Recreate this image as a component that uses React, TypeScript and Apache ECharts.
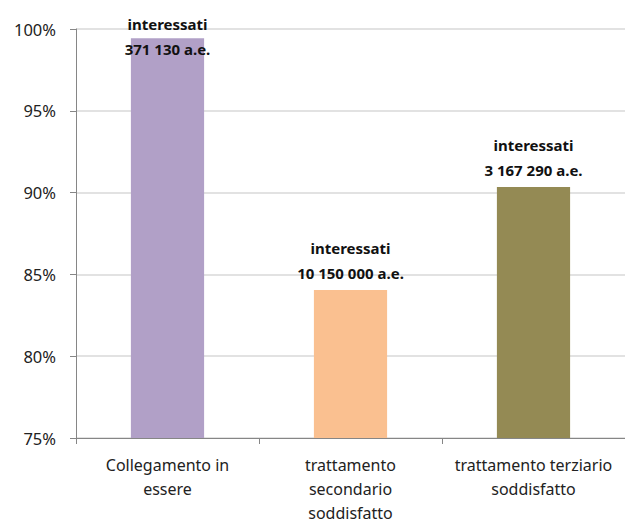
import React, { useEffect, useRef } from "react";
import * as echarts from "echarts";

const categories = ["Collegamento in\nessere", "trattamento\nsecondario\nsoddisfatto", "trattamento terziario\nsoddisfatto"];
const values = [99.43, 84.04, 90.34];
const labelTexts = ["interessati\n371 130 a.e.", "interessati\n10 150 000 a.e.", "interessati\n3 167 290 a.e."];
const colors = ["#B1A0C7", "#FAC090", "#948A54"];
const yTicks = [75, 80, 85, 90, 95, 100];

export default function App() {
  const ref = useRef<HTMLDivElement>(null);
  useEffect(() => {
    if (!ref.current) return;
    const chart = echarts.init(ref.current, null, { renderer: "svg" });
    chart.setOption({
      animation: false,
      backgroundColor: "#ffffff",
      textStyle: { fontFamily: "Noto Sans" },
      grid: { left: 76, right: -6, top: 29, bottom: 81, containLabel: false },
      xAxis: {
        type: "category",
        data: categories,
        axisLine: { lineStyle: { color: "#868686", width: 1 } },
        axisTick: { show: true, alignWithLabel: false, length: 6, lineStyle: { color: "#868686" } },
        axisLabel: { color: "#222222", fontSize: 16, lineHeight: 24, margin: 15, interval: 0 },
      },
      yAxis: {
        type: "value",
        min: yTicks[0],
        max: yTicks[yTicks.length - 1],
        interval: 5,
        axisLine: { show: true, lineStyle: { color: "#868686", width: 1 } },
        axisTick: { show: true, length: 6, lineStyle: { color: "#868686" } },
        axisLabel: { color: "#222222", fontSize: 16.5, margin: 20, formatter: (v: number) => v + "%" },
        splitLine: { show: true, lineStyle: { color: "#D9D9D9", width: 1.5 } },
      },
      series: [
        {
          type: "bar",
          barWidth: "40%",
          data: values.map((v, i) => ({
            value: v,
            itemStyle: { color: colors[i] },
            label: {
              show: true,
              position: "top",
              distance: 5,
              offset: i === 0 ? [0, 28] : [0, 0],
              formatter: () => labelTexts[i],
              fontWeight: "bold",
              fontSize: 15,
              lineHeight: 25,
              color: "#111111",
              fontFamily: "Noto Sans",
            },
          })),
        },
      ],
    });
    return () => chart.dispose();
  }, []);
  return (
    <div
      ref={ref}
      style={{ position: "fixed", left: 0, top: 0, width: 625, height: 525 }}
    />
  );
}
